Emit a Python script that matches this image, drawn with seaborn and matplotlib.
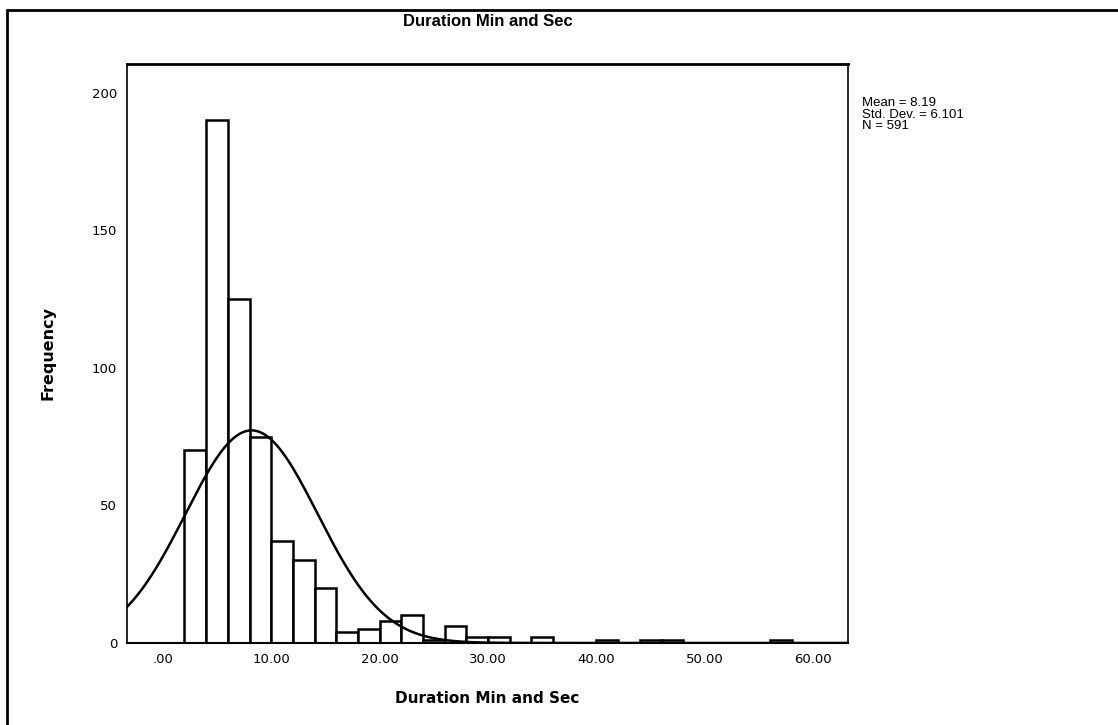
import numpy as np
import pandas as pd
import matplotlib.pyplot as plt
import seaborn as sns
from matplotlib.lines import Line2D

# Histogram counts (bin width 2, first bin starts at 2)
bin_starts = [2, 4, 6, 8, 10, 12, 14, 16, 18, 20, 22, 24, 26, 28,
              30, 32, 34, 36, 38, 40, 42, 44, 46, 48, 50, 52, 54, 56]
counts = [70, 190, 125, 75, 37, 30, 20, 4, 5, 8, 10, 1, 6, 2,
          2, 0, 2, 0, 0, 1, 0, 1, 1, 0, 0, 0, 0, 1]
bin_width = 2

# Summary stats shown on the chart
mean_val = 8.19
std_val = 6.101
n_val = 591

x_ticks = [0, 10, 20, 30, 40, 50, 60]
x_tick_labels = [".00", "10.00", "20.00", "30.00", "40.00", "50.00", "60.00"]
y_ticks = [0, 50, 100, 150, 200]

sns.set_style("white")
plt.rcParams['font.family'] = ['Liberation Sans', 'DejaVu Sans']
plt.rcParams['text.color'] = 'black'
plt.rcParams['axes.labelcolor'] = 'black'
plt.rcParams['xtick.color'] = 'black'
plt.rcParams['ytick.color'] = 'black'

df = pd.DataFrame({"x": [s + bin_width / 2 for s in bin_starts], "w": counts})
edges = bin_starts + [bin_starts[-1] + bin_width]

fig = plt.figure(figsize=(11.18, 7.25), dpi=100)
ax = fig.add_axes([127 / 1118, 1 - 643 / 725, (848 - 127) / 1118, (643 - 64) / 725])

sns.histplot(data=df, x="x", weights="w", bins=edges, ax=ax,
             color="white", edgecolor="black", linewidth=1.8, alpha=1)

# Normal curve scaled to the histogram
xmin, xmax = -3.3, 63.2
xs = np.linspace(xmin, xmax, 400)
ys = n_val * bin_width * np.exp(-0.5 * ((xs - mean_val) / std_val) ** 2) / (std_val * np.sqrt(2 * np.pi))
ax.plot(xs, ys, color="black", linewidth=1.8)

ax.set_xlim(xmin, xmax)
ax.set_ylim(0, 210.5)
ax.set_xticks(x_ticks)
ax.set_xticklabels(x_tick_labels, family="DejaVu Sans", fontsize=9.5)
ax.set_yticks(y_ticks)
ax.set_yticklabels([str(v) for v in y_ticks], family="DejaVu Sans", fontsize=9.5)
ax.tick_params(axis="both", direction="out", length=5, width=1.5, color="black", pad=2)

for side in ["left", "bottom", "right", "top"]:
    ax.spines[side].set_visible(True)
    ax.spines[side].set_color("black")
ax.spines["left"].set_linewidth(1.2)
ax.spines["bottom"].set_linewidth(1.5)
ax.spines["right"].set_linewidth(1.2)
ax.spines["top"].set_linewidth(2)

ax.set_title("Duration Min and Sec", fontsize=12, fontweight="bold", pad=27)
ax.set_xlabel("Duration Min and Sec", family="DejaVu Sans", fontsize=11,
              fontweight="bold", labelpad=18)
ax.set_ylabel("Frequency", family="DejaVu Sans", fontsize=11.5,
              fontweight="bold", labelpad=26)

fig.text(862 / 1118, 1 - 97 / 725,
         f"Mean = {mean_val}\nStd. Dev. = {std_val}\nN = {n_val}",
         fontsize=9.5, va="top", ha="left", linespacing=0.95)

# outer frame (left and top edges)
fig.add_artist(Line2D([7 / 1118, 7 / 1118], [0, 1 - 10 / 725], color="black", linewidth=2, transform=fig.transFigure))
fig.add_artist(Line2D([7 / 1118, 1], [1 - 10 / 725, 1 - 10 / 725], color="black", linewidth=2, transform=fig.transFigure))

fig.savefig("out.png", dpi=100)
